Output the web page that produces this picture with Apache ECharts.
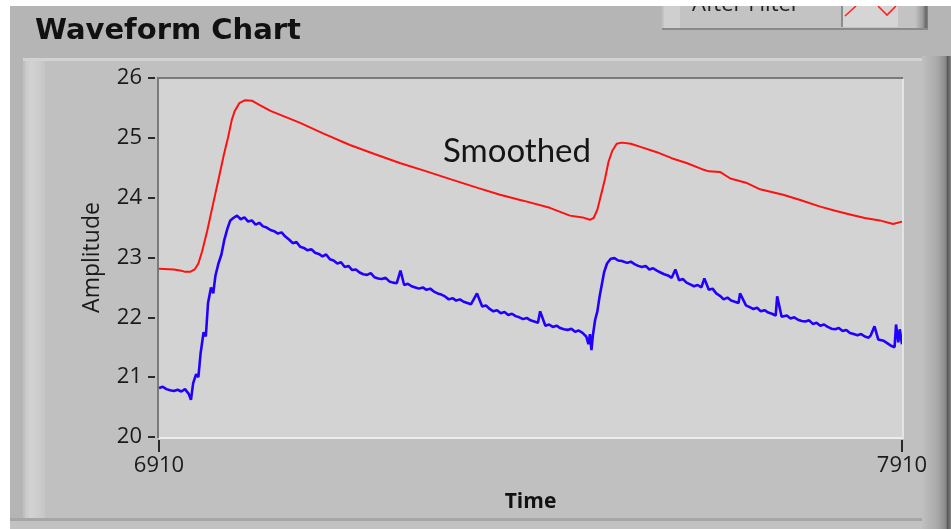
<!DOCTYPE html>
<html>
<head>
<meta charset="utf-8">
<script src="https://cdn.jsdelivr.net/npm/echarts@6/dist/echarts.min.js"></script>
<style>
html,body{margin:0;padding:0;background:#ffffff;}
#chart{width:951px;height:529px;}
</style>
</head>
<body>
<div id="chart"></div>
<script>
// ---- data ----
const chartTitle = 'Waveform Chart';
const xTickLabels = [6910, 7910];
const yTickLabels = [20, 21, 22, 23, 24, 25, 26];
const annotation = 'Smoothed';
const legendLabel = 'After Filter';

// Smoothed (after filter) – red
const smoothTime = [6910,6930,6940,6945,6952,6958,6963,6968,6975,6982,6990,6997,7003,7008,7012,7018,7026,7035,7045,7060,7080,7100,7130,7167,7200,7234,7270,7302,7340,7369,7400,7436,7463,7480,7490,7495,7500,7505,7510,7515,7520,7526,7533,7545,7560,7580,7600,7620,7640,7650,7665,7679,7700,7719,7750,7773,7800,7820,7840,7860,7880,7898,7910];
const smoothValue = [22.81,22.80,22.78,22.76,22.76,22.80,22.90,23.10,23.45,23.85,24.30,24.70,25.01,25.30,25.45,25.58,25.63,25.62,25.55,25.45,25.35,25.25,25.08,24.88,24.73,24.58,24.44,24.31,24.16,24.05,23.95,23.83,23.70,23.67,23.63,23.66,23.80,24.05,24.30,24.60,24.78,24.90,24.92,24.90,24.84,24.76,24.66,24.58,24.48,24.44,24.43,24.32,24.25,24.14,24.05,23.96,23.85,23.78,23.72,23.66,23.62,23.56,23.60];

// Raw waveform – blue
const rawTime = [6910,6915,6920,6925,6930,6935,6940,6945,6950,6953,6956,6960,6963,6966,6970,6973,6976,6980,6983,6986,6990,6994,6998,7002,7006,7010,7015,7020,7025,7030,7035,7040,7045,7050,7055,7060,7065,7070,7075,7080,7085,7090,7095,7100,7105,7110,7115,7120,7125,7130,7135,7140,7145,7150,7155,7160,7165,7170,7175,7180,7185,7190,7195,7200,7205,7210,7215,7220,7225,7230,7235,7240,7245,7250,7255,7260,7265,7270,7275,7280,7285,7290,7295,7300,7305,7310,7315,7320,7325,7330,7338,7345,7350,7355,7360,7365,7370,7375,7380,7385,7390,7395,7400,7405,7410,7415,7420,7423,7430,7435,7440,7445,7450,7455,7460,7465,7470,7475,7480,7485,7488,7490,7492,7494,7497,7500,7503,7506,7509,7513,7518,7523,7528,7533,7540,7545,7550,7555,7560,7565,7570,7575,7580,7585,7590,7595,7600,7605,7610,7615,7620,7625,7630,7635,7640,7644,7650,7655,7660,7665,7670,7675,7680,7685,7690,7692,7700,7705,7710,7715,7720,7725,7730,7735,7740,7742,7748,7755,7760,7765,7770,7775,7780,7785,7790,7795,7800,7805,7810,7815,7820,7825,7830,7835,7840,7845,7850,7855,7860,7865,7868,7873,7878,7885,7890,7896,7900,7902,7905,7907,7910];
const rawValue = [20.82,20.84,20.80,20.78,20.77,20.79,20.76,20.80,20.72,20.62,20.90,21.05,21.00,21.40,21.75,21.68,22.24,22.50,22.40,22.70,22.90,23.05,23.30,23.48,23.62,23.66,23.70,23.64,23.67,23.60,23.62,23.55,23.58,23.52,23.50,23.46,23.44,23.40,23.42,23.35,23.30,23.24,23.26,23.18,23.16,23.12,23.14,23.08,23.06,23.02,23.05,22.97,22.95,22.90,22.92,22.84,22.86,22.79,22.80,22.75,22.72,22.71,22.74,22.67,22.65,22.64,22.66,22.60,22.58,22.57,22.78,22.54,22.56,22.52,22.50,22.48,22.50,22.46,22.48,22.43,22.40,22.38,22.35,22.30,22.32,22.28,22.30,22.26,22.24,22.22,22.40,22.18,22.20,22.14,22.10,22.12,22.07,22.09,22.04,22.06,22.02,22.00,21.97,21.99,21.95,21.93,21.91,22.10,21.86,21.88,21.84,21.86,21.82,21.80,21.79,21.81,21.76,21.78,21.74,21.68,21.55,21.72,21.45,21.70,21.96,22.10,22.35,22.55,22.75,22.90,22.98,22.99,22.95,22.94,22.91,22.93,22.89,22.86,22.84,22.86,22.80,22.82,22.78,22.75,22.72,22.70,22.66,22.80,22.62,22.64,22.58,22.55,22.52,22.54,22.50,22.65,22.46,22.48,22.40,22.36,22.30,22.33,22.28,22.26,22.24,22.40,22.20,22.17,22.14,22.16,22.10,22.12,22.08,22.06,22.03,22.35,22.01,22.03,21.98,22.00,21.96,21.94,21.93,21.95,21.89,21.91,21.86,21.88,21.84,21.81,21.80,21.82,21.77,21.79,21.74,21.72,21.70,21.72,21.68,21.66,21.70,21.85,21.63,21.61,21.57,21.52,21.50,21.88,21.58,21.80,21.55];

const smoothData = smoothTime.map((t, i) => [t, smoothValue[i]]);
const rawData = rawTime.map((t, i) => [t, rawValue[i]]);

// ---- chart ----
const chart = echarts.init(document.getElementById('chart'), null, {renderer: 'canvas'});
const G = {left: 159, top: 78, w: 743, h: 359};

const option = {
  animation: false,
  backgroundColor: '#ffffff',
  grid: {left: G.left, top: G.top, width: G.w, height: G.h, show: true, backgroundColor: '#d3d3d3', borderWidth: 0},
  xAxis: {
    type: 'value', min: xTickLabels[0], max: xTickLabels[1], interval: xTickLabels[1] - xTickLabels[0],
    offset: 3,
    axisLine: {show: false},
    axisTick: {show: true, length: 12, lineStyle: {color: '#2a2a2a', width: 2}},
    splitLine: {show: false},
    axisLabel: {margin: 15, fontSize: 22, color: '#1a1a1a', fontFamily: 'Open Sans', formatter: v => String(v)},
    name: 'Time', nameLocation: 'middle', nameGap: 52,
    nameTextStyle: {fontSize: 21, fontWeight: 'bold', color: '#111', fontFamily: 'Open Sans'}
  },
  yAxis: {
    type: 'value', min: yTickLabels[0], max: yTickLabels[yTickLabels.length - 1], interval: 1,
    offset: 4,
    axisLine: {show: false},
    axisTick: {show: true, length: 7, lineStyle: {color: '#2a2a2a', width: 2}},
    splitLine: {show: false},
    axisLabel: {margin: 13, fontSize: 22, color: '#1a1a1a', fontFamily: 'Open Sans'},
    name: 'Amplitude', nameLocation: 'middle', nameGap: 51,
    nameTextStyle: {fontSize: 23, color: '#1a1a1a', fontFamily: 'Open Sans'}
  },
  series: [
    {name: 'Raw', type: 'line', data: rawData, showSymbol: false, z: 3,
     lineStyle: {color: '#2200ff', width: 2.6}, itemStyle: {color: '#2200ff'}},
    {name: legendLabel, type: 'line', data: smoothData, showSymbol: false, z: 4,
     lineStyle: {color: '#ff1010', width: 2}, itemStyle: {color: '#ff1010'}}
  ],
  graphic: [
    // outer frame
    {type: 'rect', z: -20, shape: {x: 10, y: 6, width: 941, height: 523}, style: {fill: '#b5b5b5'}},
    // panel
    {type: 'rect', z: -19, shape: {x: 23, y: 58, width: 907, height: 460}, style: {fill: '#c0c0c0'}},
    {type: 'rect', z: -18, shape: {x: 23, y: 58, width: 907, height: 3}, style: {fill: '#d2d2d2'}},
    {type: 'rect', z: -18, shape: {x: 25, y: 61, width: 20, height: 457},
     style: {fill: new echarts.graphic.LinearGradient(0, 0, 1, 0, [
       {offset: 0, color: '#c8c8c8'}, {offset: 0.3, color: '#d3d3d3'}, {offset: 1, color: '#c6c6c6'}])}},
    {type: 'rect', z: -18, shape: {x: 10, y: 518, width: 941, height: 3}, style: {fill: '#a6a6a6'}},
    {type: 'rect', z: -18, shape: {x: 10, y: 521, width: 941, height: 8}, style: {fill: '#c2c2c2'}},
    // right dark bevel
    {type: 'rect', z: -17, shape: {x: 922, y: 56, width: 29, height: 473},
     style: {fill: new echarts.graphic.LinearGradient(0, 0, 1, 0, [
       {offset: 0, color: '#c0c0c0'}, {offset: 0.55, color: '#a8a8a8'}, {offset: 0.82, color: '#888888'},
       {offset: 0.88, color: '#5a5a5a'}, {offset: 0.95, color: '#6e6e6e'}, {offset: 1, color: '#8a8a8a'}])}},
    // plot area bevel borders
    {type: 'line', z: 5, shape: {x1: 157, y1: 78, x2: 903, y2: 78}, style: {stroke: '#7a7a7a', lineWidth: 2}},
    {type: 'line', z: 5, shape: {x1: 158, y1: 77, x2: 158, y2: 438}, style: {stroke: '#7a7a7a', lineWidth: 2}},
    {type: 'line', z: 5, shape: {x1: 159, y1: 438, x2: 904, y2: 438}, style: {stroke: '#ececec', lineWidth: 2}},
    {type: 'line', z: 5, shape: {x1: 903, y1: 79, x2: 903, y2: 439}, style: {stroke: '#e4e4e4', lineWidth: 2}},
    // title
    {type: 'text', z: 6, left: 35, top: 17,
     style: {text: chartTitle, fontSize: 29, fontWeight: 'bold', fontFamily: 'DejaVu Sans', fill: '#111111'}},
    // annotation
    {type: 'text', z: 6, x: 443, y: 151,
     style: {text: annotation, fontSize: 33, fontFamily: 'Lato', fill: '#151515', textVerticalAlign: 'middle'}},
    // legend box (clipped at top)
    {type: 'rect', z: 6, shape: {x: 662, y: 0, width: 266, height: 30}, style: {fill: '#c3c3c3'}},
    {type: 'rect', z: 6, shape: {x: 664, y: 0, width: 16, height: 28}, style: {fill: '#cfcfcf'}},
    {type: 'rect', z: 6, shape: {x: 915, y: 0, width: 13, height: 30},
     style: {fill: new echarts.graphic.LinearGradient(0, 0, 1, 0, [
       {offset: 0, color: '#c3c3c3'}, {offset: 0.6, color: '#9a9a9a'}, {offset: 0.85, color: '#666666'}, {offset: 1, color: '#888888'}])}},
    {type: 'rect', z: 6, shape: {x: 662, y: 28, width: 266, height: 2}, style: {fill: '#8a8a8a'}},
    {type: 'rect', z: 7, shape: {x: 842, y: 0, width: 56, height: 27}, style: {fill: '#d5d5d5'}},
    {type: 'rect', z: 7, shape: {x: 841, y: 0, width: 2, height: 27}, style: {fill: '#8c8c8c'}},
    {type: 'polyline', z: 8, shape: {points: [[845, 16], [856, 6]]}, style: {stroke: '#ff2020', lineWidth: 1.6, fill: null}},
    {type: 'polyline', z: 8, shape: {points: [[878, 6], [887, 15], [896, 6]]}, style: {stroke: '#ff2020', lineWidth: 1.6, fill: null}},
    {type: 'text', z: 8, x: 692, y: 5,
     style: {text: legendLabel, fontSize: 22, fontFamily: 'Open Sans', fill: '#222222', textVerticalAlign: 'middle'}},
    // white top strip clipping the legend
    {type: 'rect', z: 20, shape: {x: 0, y: 0, width: 951, height: 6}, style: {fill: '#ffffff'}}
  ]
};
chart.setOption(option);
</script>
</body>
</html>
